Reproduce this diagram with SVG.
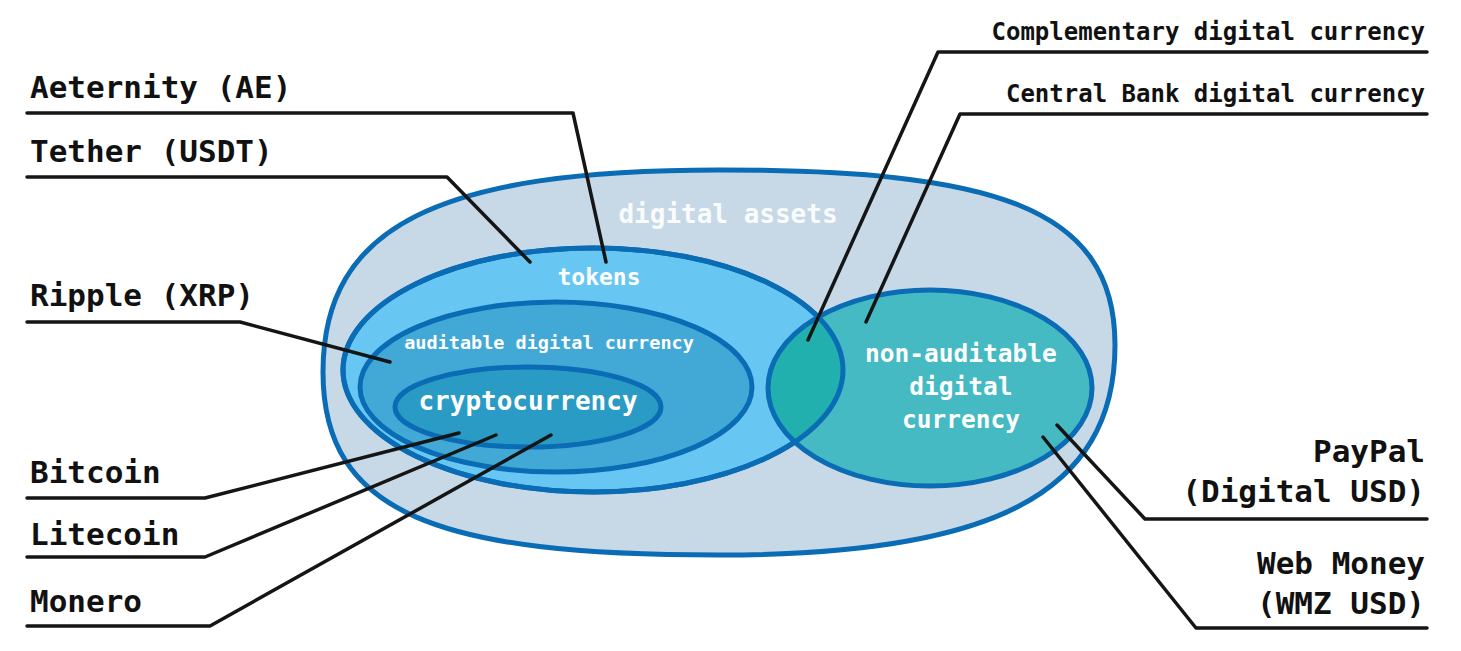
<svg xmlns="http://www.w3.org/2000/svg" width="1461" height="651" viewBox="0 0 1461 651">
<style>
.lbl{font-family:"DejaVu Sans Mono","Liberation Mono",monospace;font-weight:bold;fill:#111;}
.in{font-family:"DejaVu Sans Mono","Liberation Mono",monospace;font-weight:bold;fill:#fff;text-anchor:middle;}
.edge{stroke:#0a6cb4;stroke-width:5;}
.lead{fill:none;stroke:#151515;stroke-width:3.5;stroke-linecap:round;stroke-linejoin:round;}
</style>
<defs>
<clipPath id="clipTokens"><ellipse cx="593" cy="370" rx="250" ry="122"/></clipPath>
</defs>
<g id="digital-assets">
<path class="edge" fill="#c7d9e6" d="M 719,170 C 990,170 1115,205 1115,345 C 1115,495 990,555 719,555 C 440,555 323,515 323,372 C 323,225 440,170 719,170 Z"/>
<text class="in" x="728" y="223" font-size="26" fill-opacity="0.92">digital assets</text>
</g>
<g id="tokens">
<ellipse class="edge" cx="593" cy="370" rx="250" ry="122" fill="#68c7f2"/>
<text class="in" x="599" y="285" font-size="23">tokens</text>
</g>
<g id="auditable">
<ellipse class="edge" cx="556" cy="387" rx="196" ry="85" fill="#42a9d7"/>
<text class="in" x="549" y="349" font-size="18.5">auditable digital currency</text>
</g>
<g id="cryptocurrency">
<ellipse class="edge" cx="528" cy="407" rx="133" ry="40" fill="#2a9bc5"/>
<text class="in" x="528" y="410" font-size="26">cryptocurrency</text>
</g>
<g id="non-auditable">
<ellipse cx="930" cy="388" rx="162" ry="98" fill="#45bac2"/>
<ellipse cx="930" cy="388" rx="162" ry="98" fill="#21b0ae" clip-path="url(#clipTokens)"/>
<ellipse class="edge" cx="593" cy="370" rx="250" ry="122" fill="none"/>
<ellipse class="edge" cx="930" cy="388" rx="162" ry="98" fill="none"/>
<text class="in" font-size="24.5"><tspan x="961" y="362">non-auditable</tspan><tspan x="961" y="395">digital</tspan><tspan x="961" y="428">currency</tspan></text>
</g>
<g id="connectors">
<polyline class="lead" points="27,113 573,113 606,262"/>
<polyline class="lead" points="27,177 447,177 530,262"/>
<polyline class="lead" points="27,322 240,322 390,362"/>
<polyline class="lead" points="27,498 205,498 459,433"/>
<polyline class="lead" points="27,557 205,557 496,435"/>
<polyline class="lead" points="27,626 210,626 551,435"/>
<polyline class="lead" points="1427,52 938,52 808,340"/>
<polyline class="lead" points="1427,114 960,114 866,322"/>
<polyline class="lead" points="1427,519 1145,519 1057,425"/>
<polyline class="lead" points="1427,628 1196,628 1043,437"/>
</g>
<g id="label-aeternity"><text class="lbl" x="30" y="98" font-size="31">Aeternity (AE)</text></g>
<g id="label-tether"><text class="lbl" x="30" y="162" font-size="31">Tether (USDT)</text></g>
<g id="label-ripple"><text class="lbl" x="30" y="306" font-size="31">Ripple (XRP)</text></g>
<g id="label-bitcoin"><text class="lbl" x="30" y="483" font-size="31">Bitcoin</text></g>
<g id="label-litecoin"><text class="lbl" x="30" y="545" font-size="31">Litecoin</text></g>
<g id="label-monero"><text class="lbl" x="30" y="612" font-size="31">Monero</text></g>
<g id="label-complementary"><text class="lbl" x="1425" y="40" font-size="24" text-anchor="end">Complementary digital currency</text></g>
<g id="label-cbdc"><text class="lbl" x="1425" y="102" font-size="24" text-anchor="end">Central Bank digital currency</text></g>
<g id="label-paypal"><text class="lbl" font-size="31" text-anchor="end"><tspan x="1425" y="462">PayPal</tspan><tspan x="1425" y="502">(Digital USD)</tspan></text></g>
<g id="label-webmoney"><text class="lbl" font-size="31" text-anchor="end"><tspan x="1425" y="574">Web Money</tspan><tspan x="1425" y="614">(WMZ USD)</tspan></text></g>
</svg>
